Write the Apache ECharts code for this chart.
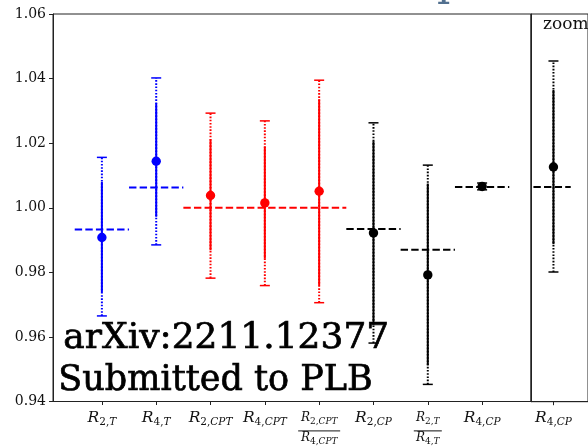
<!DOCTYPE html>
<html><head><meta charset="utf-8">
<script src="https://cdn.jsdelivr.net/npm/echarts@6/dist/echarts.min.js"></script>
<style>html,body{margin:0;padding:0;background:#fff}#c{width:588px;height:446px}</style>
</head><body><div id="c"></div>
<script>
// ---- data ----
const categoryPos = [0, 1, 2, 3, 4, 5, 6, 7];
const tickLabels = [
  '{R|R}{su|2,}{si|T}',
  '{R|R}{su|4,}{si|T}',
  '{R|R}{su|2,}{si|CPT}',
  '{R|R}{su|4,}{si|CPT}',
  '{fR|R}{fsu|2,}{fsi|CPT}\n{bar1| }\n{dR|R}{dsu|4,}{dsi|CPT}',
  '{R|R}{su|2,}{si|CP}',
  '{fR|R}{fsu|2,}{fsi|T}\n{bar2| }\n{dR|R}{dsu|4,}{dsi|T}',
  '{R|R}{su|4,}{si|CP}'
];
const groups    = ['blue', 'blue', 'red', 'red', 'red', 'black', 'black', 'black'];
const central   = [0.9908, 1.0144, 1.0038, 1.0015, 1.0051, 0.9922, 0.9792, 1.0066];
const statLow   = [0.9739, 0.9972, 0.9868, 0.9843, 0.9760, 0.9638, 0.9512, 1.00583];
const statHigh  = [1.0080, 1.0324, 1.0212, 1.0189, 1.0336, 1.0206, 1.0075, 1.00737];
const totLow    = [0.9665, 0.9885, 0.9782, 0.9759, 0.9706, 0.9581, 0.9453, 1.00555];
const totHigh   = [1.0156, 1.0402, 1.0293, 1.0269, 1.0395, 1.0263, 1.0132, 1.00766];
// predictions (dashed): start, end, value, group
const predStart = [-0.5, 0.5, 1.5, 4.5, 5.5, 6.5];
const predEnd   = [0.5, 1.5, 4.5, 5.5, 6.5, 7.5];
const predValue = [0.9933, 1.0063, 1.0000, 0.9934, 0.9870, 1.0064];
const predGroup = ['blue', 'blue', 'red', 'black', 'black', 'black'];
// zoom panel (R4,CP)
const zoomIndex = 7;
const zoomPredStart = -0.58, zoomPredEnd = 0.5;
const yTicks = { min: 0.94, max: 1.06, interval: 0.02 };
const zoomY = { min: 1.004253, max: 1.00813 };

// ---- styles ----
const colorOf = { blue: '#0000ff', red: '#ff0000', black: '#000000' };
const serif = 'DejaVu Serif';

const errData = categoryPos.map((x, i) => [x, central[i], statLow[i], statHigh[i], totLow[i], totHigh[i], i]);
const predData = predStart.map((s, i) => [s, predEnd[i], predValue[i], i]);

function makeErr(getColor) {
  return function (params, api) {
    const x = api.value(0);
    const c = getColor(api.value(6));
    const pV = api.coord([x, api.value(1)]);
    const pSL = api.coord([x, api.value(2)]);
    const pSH = api.coord([x, api.value(3)]);
    const pTL = api.coord([x, api.value(4)]);
    const pTH = api.coord([x, api.value(5)]);
    const cw = 5;
    return { type: 'group', children: [
      { type: 'line', shape: { x1: pTL[0], y1: pTL[1], x2: pTH[0], y2: pTH[1] },
        style: { stroke: c, lineWidth: 2, lineDash: [1.6, 1.6] } },
      { type: 'line', shape: { x1: pSL[0], y1: pSL[1], x2: pSH[0], y2: pSH[1] },
        style: { stroke: c, lineWidth: 2 } },
      { type: 'line', shape: { x1: pTL[0] - cw, y1: pTL[1], x2: pTL[0] + cw, y2: pTL[1] },
        style: { stroke: c, lineWidth: 1.5 } },
      { type: 'line', shape: { x1: pTH[0] - cw, y1: pTH[1], x2: pTH[0] + cw, y2: pTH[1] },
        style: { stroke: c, lineWidth: 1.5 } },
      { type: 'circle', shape: { cx: pV[0], cy: pV[1], r: 4.7 }, style: { fill: c } }
    ] };
  };
}
function renderPred(params, api) {
  const a = api.coord([api.value(0), api.value(2)]);
  const b = api.coord([api.value(1), api.value(2)]);
  const c = colorOf[predGroup[api.value(3)]];
  return { type: 'line', shape: { x1: a[0], y1: a[1], x2: b[0], y2: b[1] },
    style: { stroke: c, lineWidth: 2, lineDash: [7.4, 3.2] } };
}

const lc = '#111';
const rich = {
  R:   { fontFamily: serif, fontStyle: 'italic', fontSize: 15.5, height: 16, verticalAlign: 'top', color: lc },
  su:  { fontFamily: serif, fontSize: 10.5, height: 10, padding: [8, 0, 0, 0], verticalAlign: 'top', color: lc },
  si:  { fontFamily: serif, fontStyle: 'italic', fontSize: 10.5, height: 10, padding: [8, 0, 0, 0], verticalAlign: 'top', color: lc },
  fR:  { fontFamily: serif, fontStyle: 'italic', fontSize: 12, height: 13, padding: [2, 0, 0, 0], verticalAlign: 'top', color: lc },
  fsu: { fontFamily: serif, fontSize: 9, height: 8, padding: [8, 0, 0, 0], verticalAlign: 'top', color: lc },
  fsi: { fontFamily: serif, fontStyle: 'italic', fontSize: 9, height: 8, padding: [8, 0, 0, 0], verticalAlign: 'top', color: lc },
  dR:  { fontFamily: serif, fontStyle: 'italic', fontSize: 12, height: 13, verticalAlign: 'top', color: lc },
  dsu: { fontFamily: serif, fontSize: 9, height: 8, padding: [6, 0, 0, 0], verticalAlign: 'top', color: lc },
  dsi: { fontFamily: serif, fontStyle: 'italic', fontSize: 9, height: 8, padding: [6, 0, 0, 0], verticalAlign: 'top', color: lc },
  bar1: { fontSize: 1, width: 42, height: 1.3, lineHeight: 6, verticalAlign: 'bottom', backgroundColor: '#444' },
  bar2: { fontSize: 1, width: 28, height: 1.3, lineHeight: 6, verticalAlign: 'bottom', backgroundColor: '#444' }
};
const axisLineStyle = { show: true, onZero: false, lineStyle: { color: '#222', width: 1 } };

const chart = echarts.init(document.getElementById('c'), null, { renderer: 'canvas' });
chart.setOption({
  animation: false,
  backgroundColor: '#fff',
  grid: [
    { left: 53, top: 14, width: 478, height: 387.7, show: true, borderColor: '#222', borderWidth: 1, backgroundColor: 'transparent' },
    { left: 531, top: 14, width: 89.6, height: 387.7, show: true, borderColor: '#222', borderWidth: 1, backgroundColor: 'transparent' }
  ],
  xAxis: [
    { gridIndex: 0, type: 'value', min: -0.9, max: 7.9, splitLine: { show: false },
      axisLine: axisLineStyle,
      axisTick: { show: true, inside: false, length: 3.5, customValues: categoryPos, lineStyle: { color: '#222' } },
      axisLabel: { show: true, margin: 8, customValues: categoryPos, formatter: v => tickLabels[Math.round(v)], rich: rich, color: lc } },
    { gridIndex: 1, type: 'value', min: -0.65, max: 1.0, splitLine: { show: false },
      axisLine: axisLineStyle,
      axisTick: { show: true, inside: false, length: 3.5, customValues: [0], lineStyle: { color: '#222' } },
      axisLabel: { show: true, margin: 8, customValues: [0], formatter: () => tickLabels[zoomIndex], rich: rich, color: lc } }
  ],
  yAxis: [
    { gridIndex: 0, type: 'value', min: yTicks.min, max: yTicks.max, interval: yTicks.interval,
      splitLine: { show: false }, axisLine: axisLineStyle,
      axisTick: { show: true, inside: false, length: 4, lineStyle: { color: '#222' } },
      axisLabel: { margin: 7, formatter: v => v.toFixed(2), fontFamily: serif, fontSize: 14, color: lc } },
    { gridIndex: 1, type: 'value', min: zoomY.min, max: zoomY.max,
      splitLine: { show: false }, axisLine: axisLineStyle, axisTick: { show: false }, axisLabel: { show: false } }
  ],
  series: [
    { type: 'custom', xAxisIndex: 0, yAxisIndex: 0, renderItem: renderPred, data: predData, z: 2 },
    { type: 'custom', xAxisIndex: 0, yAxisIndex: 0, renderItem: makeErr(i => colorOf[groups[i]]), data: errData, z: 3 },
    { type: 'custom', xAxisIndex: 1, yAxisIndex: 1, renderItem: renderPred,
      data: [[zoomPredStart, zoomPredEnd, predValue[predValue.length - 1], predValue.length - 1]], z: 2 },
    { type: 'custom', xAxisIndex: 1, yAxisIndex: 1, renderItem: makeErr(i => colorOf[groups[i]]),
      data: [[0, central[zoomIndex], statLow[zoomIndex], statHigh[zoomIndex], totLow[zoomIndex], totHigh[zoomIndex], zoomIndex]], z: 3 }
  ],
  graphic: [
    { type: 'text', left: 543, top: 16.5, z: 10, style: { text: 'zoom', font: '17px "DejaVu Serif"', fill: '#111' } },
    { type: 'text', left: 437, top: -36.5, z: 10, style: { text: 'p', font: '42px "DejaVu Serif"', fill: '#52708f' } },
    { type: 'text', left: 63, top: 320.5, z: 10, style: { text: 'arXiv:2211.12377', font: '36px "DejaVu Serif"', fill: '#000', stroke: '#000', lineWidth: 0.7 } },
    { type: 'text', left: 58, top: 363, z: 10, style: { text: 'Submitted to PLB', font: '35px "DejaVu Serif"', fill: '#000', stroke: '#000', lineWidth: 0.7 } }
  ]
});
</script>
</body></html>
